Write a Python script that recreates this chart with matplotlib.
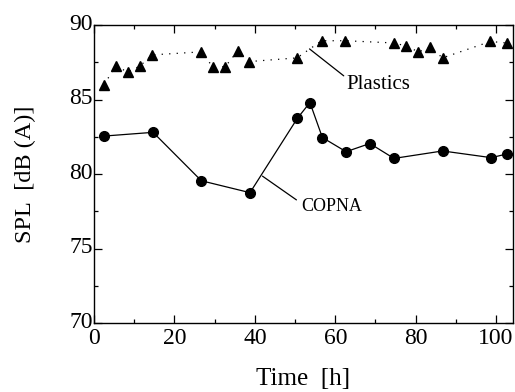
import matplotlib
matplotlib.use("Agg")
import matplotlib.pyplot as plt
import matplotlib.transforms as mtransforms
from matplotlib.ticker import MultipleLocator

plastics_t = [2.5, 5.4, 8.4, 11.4, 14.5, 26.5, 29.6, 32.6, 35.7, 38.6, 50.5, 56.6,
              62.5, 74.6, 77.6, 80.7, 83.6, 86.7, 98.6, 102.6]
plastics_spl = [86.0, 87.25, 86.85, 87.25, 88.0, 88.2, 87.2, 87.2, 88.25, 87.55, 87.8, 88.95,
                88.95, 88.8, 88.6, 88.2, 88.5, 87.8, 88.9, 88.8]

copna_t = [2.5, 14.7, 26.7, 38.8, 50.6, 53.7, 56.8, 62.7, 68.6, 74.6, 86.7, 98.8, 102.7]
copna_spl = [82.55, 82.8, 79.55, 78.75, 83.75, 84.8, 82.45, 81.5, 82.05, 81.05, 81.55, 81.1, 81.35]

xticks = [0, 20, 40, 60, 80, 100]
yticks = [70, 75, 80, 85, 90]

plt.rcParams['font.family'] = ['Liberation Serif', 'DejaVu Serif']

fig = plt.figure(figsize=(5.15, 3.92), dpi=100)
ax = fig.add_axes([0.1825, 0.176, 0.8136, 0.760])

ax.plot(plastics_t, plastics_spl, linestyle=(0, (1, 5)), color='black', linewidth=0.9,
        marker='^', markersize=7.5, markerfacecolor='black', markeredgecolor='black')
ax.plot(copna_t, copna_spl, linestyle='-', color='black', linewidth=0.9,
        marker='o', markersize=7, markerfacecolor='black', markeredgecolor='black')

ax.set_xlim(0, 104.2)
ax.set_ylim(70, 90)
ax.set_xticks(xticks)
ax.set_yticks(yticks)
ax.xaxis.set_minor_locator(MultipleLocator(10))
ax.yaxis.set_minor_locator(MultipleLocator(2.5))
ax.tick_params(which='both', direction='in', top=True, right=True, width=0.9)
ax.tick_params(which='major', length=6, labelsize=17)
ax.tick_params(axis='x', which='major', pad=3.5)
ax.tick_params(axis='y', which='major', pad=1)
ax.tick_params(which='minor', length=3)
for s in ax.spines.values():
    s.set_linewidth(1.0)

offset = mtransforms.ScaledTranslation(0, 0.035, fig.dpi_scale_trans)
for lbl in ax.get_yticklabels():
    lbl.set_transform(lbl.get_transform() + offset)

ax.set_xlabel('Time  [h]', fontsize=18, labelpad=14)
ax.set_ylabel('SPL  [dB (A)]', fontsize=17.5, labelpad=24)

ax.annotate('Plastics', xy=(53.6, 88.4), xytext=(62.8, 86.0), fontsize=15,
            va='center', ha='left',
            arrowprops=dict(arrowstyle='-', color='black', linewidth=0.9,
                            shrinkA=0, shrinkB=0, relpos=(0, 0.85)))
ax.annotate('COPNA', xy=(41.9, 79.86), xytext=(51.6, 77.8), fontsize=13,
            va='center', ha='left',
            arrowprops=dict(arrowstyle='-', color='black', linewidth=0.9,
                            shrinkA=2, shrinkB=0, relpos=(0, 0.7)))

fig.savefig('out.png', dpi=100)
